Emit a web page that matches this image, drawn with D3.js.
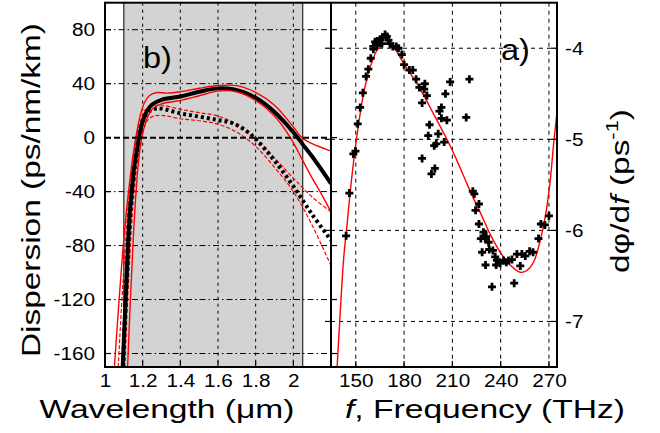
<!DOCTYPE html>
<html>
<head>
<meta charset="utf-8">
<script src="https://cdn.jsdelivr.net/npm/d3@7/dist/d3.min.js"></script>
<style>
  body { margin: 0; background: #fff; }
  svg text { font-family: "Liberation Sans", Arial, sans-serif; fill: #000; }
</style>
</head>
<body>
<svg id="chart" width="660" height="433"></svg>
<script>
// ---- panel b) dispersion vs wavelength ----
const wlTicks = [1, 1.2, 1.4, 1.6, 1.8, 2];
const dispTicks = [80, 40, 0, -40, -80, -120, -160];

// thick black solid
const wlBlack = [1.094, 1.103, 1.113, 1.122, 1.132, 1.142, 1.155, 1.17, 1.18, 1.2, 1.22, 1.25, 1.3, 1.4, 1.5, 1.6, 1.68, 1.8, 1.9, 2.0, 2.05, 2.1, 2.2];
const dBlack  = [-170, -140, -110, -80, -55, -40, -22, -9, 0, 12, 19, 24.5, 28, 30.5, 34, 36.5, 35.8, 29.5, 19, 4, -5, -14, -34];
// red solid upper / lower bounds
const wlRedUp = [1.05, 1.075, 1.1, 1.125, 1.15, 1.17, 1.19, 1.21, 1.235, 1.27, 1.33, 1.4, 1.5, 1.6, 1.7, 1.8, 1.9, 2.0, 2.045, 2.1, 2.2];
const dRedUp  = [-170, -120, -75, -40, -12, 5, 18, 26, 31, 33.3, 33, 34, 36.6, 38.6, 38.5, 33.5, 24, 8, 0, -4.5, -10];
const wlRedLo = [1.12, 1.135, 1.15, 1.165, 1.18, 1.2, 1.22, 1.25, 1.3, 1.4, 1.5, 1.6, 1.7, 1.8, 1.9, 1.984, 2.05, 2.1, 2.15, 2.2];
const dRedLo  = [-170, -120, -75, -40, -15, 3, 13, 21, 25, 27.5, 31, 34.5, 34, 27.5, 16, 0, -17, -30, -42, -55];
// thick black dotted
const wlDot = [1.096, 1.11, 1.123, 1.14, 1.16, 1.18, 1.2, 1.23, 1.27, 1.3, 1.4, 1.5, 1.6, 1.68, 1.75, 1.8, 1.9, 2.0, 2.1, 2.2];
const dDot  = [-170, -120, -80, -45, -18, 0, 12, 19, 21.5, 21.5, 18, 15.6, 13, 10.6, 5, -1, -17, -36, -57, -76];
// red dashed upper / lower bounds
const wlDashUp = [1.07, 1.09, 1.11, 1.13, 1.15, 1.17, 1.19, 1.21, 1.24, 1.3, 1.4, 1.5, 1.6, 1.7, 1.8, 1.9, 2.0, 2.1, 2.2];
const dDashUp  = [-170, -120, -75, -40, -15, 3, 13, 20, 23, 24, 21, 18.5, 16, 9.5, -1, -15, -30, -44, -55];
const wlDashLo = [1.105, 1.12, 1.135, 1.15, 1.17, 1.19, 1.21, 1.23, 1.26, 1.3, 1.4, 1.5, 1.6, 1.7, 1.8, 1.9, 2.0, 2.1, 2.2];
const dDashLo  = [-170, -120, -80, -48, -20, -2, 8, 13.5, 16, 16.5, 14, 12.5, 10, 4, -6.5, -22, -40, -65, -95];

// ---- panel a) group delay derivative vs frequency ----
const freqTicks = [150, 180, 210, 240, 270];
const dphiTicks = [-4, -5, -6, -7];

const fitF = [138.4, 140.5, 142.5, 144.5, 147, 150.4, 154.3, 157, 159.5, 163.7, 168.8, 171, 174, 177.5, 180, 184.4, 190, 198.3, 208.6, 215, 221.3, 227.5, 233.7, 239.7, 245.9, 252.2, 256.3, 260.4, 264.6, 267.7, 270.8, 272.9, 275];
const fitV = [-7.5, -6.85, -6.3, -5.95, -5.5, -5.0, -4.55, -4.33, -4.18, -4.01, -3.95, -3.955, -4.0, -4.1, -4.17, -4.29, -4.45, -4.72, -5.07, -5.32, -5.58, -5.81, -6.05, -6.24, -6.38, -6.46, -6.44, -6.35, -6.11, -5.85, -5.45, -5.05, -4.7];

const measF = [144, 146, 148.5, 149.8, 151.2, 152.7, 154.4, 156.4, 157.8, 159.3, 160.9,
  162, 163.4, 165.1, 166.8, 168.2, 169.3, 170.3, 171.3, 173, 175.1, 176.5, 163.1, 166.2, 160.9, 178.6,
  180, 183.3, 185.4, 187.5, 189.5, 192.9, 192.5, 194.2, 191.2, 208.6, 220.6, 205.7, 203.2, 202, 203.2, 206.6, 218.6,
  195.8, 195, 201.2, 204.9, 200, 198.7, 191.2, 199.1, 197,
  222.7, 223.6, 226.5, 224.4,
  226.5, 229.3, 231, 227.7, 230.4, 232.5, 228.5, 232.9, 235.2, 236.6, 237.7, 239.3, 241.8, 243.5, 239.7, 237.2, 230.6,
  244.9, 247, 250.1, 253.2, 255.3, 258, 260.1, 263.5, 265, 267.5, 270, 252.2, 234.6, 248.4];
const measV = [-6.06, -5.59, -5.16, -5.13, -4.83, -4.65, -4.49, -4.31, -4.23, -4.11, -4.01,
  -3.93, -3.92, -3.9, -3.88, -3.85, -3.87, -3.91, -3.95, -3.98, -3.98, -4.0, -3.97, -3.95, -3.98, -4.07,
  -4.18, -4.24, -4.24, -4.34, -4.43, -4.39, -4.45, -4.52, -4.6, -4.37, -4.34, -4.5, -4.65, -4.69, -4.77, -4.79, -4.76,
  -4.84, -4.96, -4.94, -5.03, -5.05, -5.07, -5.21, -5.32, -5.38,
  -5.57, -5.6, -5.71, -5.78,
  -5.93, -6.02, -6.07, -6.09, -6.09, -6.13, -6.24, -6.21, -6.22, -6.29, -6.33, -6.35, -6.33, -6.35, -6.36, -6.38, -6.38,
  -6.33, -6.32, -6.26, -6.26, -6.28, -6.23, -6.24, -6.09, -5.93, -5.94, -5.84, -6.39, -6.62, -6.58];

const svg = d3.select("#chart");
const plotTop = 2.7, plotBottom = 367, plotLeft = 105, plotMid = 331, plotRight = 557;

const xL = d3.scaleLinear().domain([1, 2.2]).range([plotLeft, plotMid]);
const yL = d3.scaleLinear().domain([-170, 100]).range([plotBottom, plotTop]);
const xR = d3.scaleLinear().domain([134.6, 275]).range([plotMid, plotRight]);
const yR = d3.scaleLinear().domain([-7.5, -3.5]).range([plotBottom, plotTop]);

const defs = svg.append("defs");
defs.append("clipPath").attr("id", "clipL").append("rect")
    .attr("x", plotLeft).attr("y", plotTop).attr("width", plotMid - plotLeft).attr("height", plotBottom - plotTop);
defs.append("clipPath").attr("id", "clipR").append("rect")
    .attr("x", plotMid).attr("y", plotTop).attr("width", plotRight - plotMid).attr("height", plotBottom - plotTop);

// ---------- left panel ----------
const gL = svg.append("g").attr("clip-path", "url(#clipL)");

// shaded wavelength window
gL.append("rect")
    .attr("x", xL(1.1)).attr("y", plotTop)
    .attr("width", xL(2.05) - xL(1.1)).attr("height", plotBottom - plotTop)
    .attr("fill", "#d3d3d3");
gL.append("line")
    .attr("x1", xL(1.1)).attr("x2", xL(1.1)).attr("y1", plotTop).attr("y2", plotBottom)
    .attr("stroke", "#000").attr("stroke-width", 1);
gL.append("line")
    .attr("x1", xL(2.05)).attr("x2", xL(2.05)).attr("y1", plotTop).attr("y2", plotBottom)
    .attr("stroke", "#000").attr("stroke-width", 1);

// grid
gL.selectAll(".hgrid")
    .data(dispTicks.filter(d => d !== 0))
    .enter().append("line")
    .attr("x1", plotLeft).attr("x2", plotMid)
    .attr("y1", d => yL(d)).attr("y2", d => yL(d))
    .attr("stroke", "#000").attr("stroke-width", 1)
    .attr("stroke-dasharray", "6,3,1.5,3");
gL.selectAll(".vgrid")
    .data(wlTicks.filter(d => d !== 1))
    .enter().append("line")
    .attr("x1", d => xL(d)).attr("x2", d => xL(d))
    .attr("y1", plotTop).attr("y2", plotBottom)
    .attr("stroke", "#000").attr("stroke-width", 1)
    .attr("stroke-dasharray", "3,4");

const lineL = (xs, ys) => d3.line()
    .x(i => xL(xs[i])).y(i => yL(ys[i]))
    .curve(d3.curveCatmullRom.alpha(0.5))(d3.range(xs.length));

// dashed red bounds
[[wlDashUp, dDashUp], [wlDashLo, dDashLo]].forEach(([xs, ys]) => {
    gL.append("path").attr("d", lineL(xs, ys))
        .attr("fill", "none").attr("stroke", "#ff0000").attr("stroke-width", 1.2)
        .attr("stroke-dasharray", "4,2");
});
// dotted black
gL.append("path").attr("d", lineL(wlDot, dDot))
    .attr("fill", "none").attr("stroke", "#000").attr("stroke-width", 4)
    .attr("stroke-dasharray", "3,3");
// solid black
gL.append("path").attr("d", lineL(wlBlack, dBlack))
    .attr("fill", "none").attr("stroke", "#000").attr("stroke-width", 4);
// solid red bounds
[[wlRedUp, dRedUp], [wlRedLo, dRedLo]].forEach(([xs, ys]) => {
    gL.append("path").attr("d", lineL(xs, ys))
        .attr("fill", "none").attr("stroke", "#ff0000").attr("stroke-width", 1.4);
});

// zero line
gL.append("line")
    .attr("x1", plotLeft).attr("x2", plotMid)
    .attr("y1", yL(0)).attr("y2", yL(0))
    .attr("stroke", "#000").attr("stroke-width", 2)
    .attr("stroke-dasharray", "6,3");

// ---------- right panel ----------
const gR = svg.append("g").attr("clip-path", "url(#clipR)");

gR.selectAll(".hgrid")
    .data(dphiTicks)
    .enter().append("line")
    .attr("x1", plotMid).attr("x2", plotRight)
    .attr("y1", d => yR(d)).attr("y2", d => yR(d))
    .attr("stroke", "#000").attr("stroke-width", 1)
    .attr("stroke-dasharray", "4,4");
gR.selectAll(".vgrid")
    .data(freqTicks)
    .enter().append("line")
    .attr("x1", d => xR(d)).attr("x2", d => xR(d))
    .attr("y1", plotTop).attr("y2", plotBottom)
    .attr("stroke", "#000").attr("stroke-width", 1)
    .attr("stroke-dasharray", "4,4");

gR.append("path")
    .attr("d", d3.line()
        .x(i => xR(fitF[i])).y(i => yR(fitV[i]))
        .curve(d3.curveCatmullRom.alpha(0.5))(d3.range(fitF.length)))
    .attr("fill", "none").attr("stroke", "#ff0000").attr("stroke-width", 1.4);

gR.selectAll(".pt")
    .data(d3.range(measF.length))
    .enter().append("path")
    .attr("class", "pt")
    .attr("transform", i => `translate(${xR(measF[i])},${yR(measV[i])})`)
    .attr("d", "M-4,0H4M0,-4V4")
    .attr("stroke", "#000").attr("stroke-width", 2.8);

// ---------- frame & ticks ----------
const tickLen = 6;
const ticks = svg.append("g").attr("stroke", "#000").attr("stroke-width", 1.2);
dispTicks.forEach(d => {
    ticks.append("line").attr("x1", plotLeft).attr("x2", plotLeft + tickLen).attr("y1", yL(d)).attr("y2", yL(d));
    ticks.append("line").attr("x1", plotMid).attr("x2", plotMid + tickLen).attr("y1", yL(d)).attr("y2", yL(d));
});
dphiTicks.forEach(d => {
    ticks.append("line").attr("x1", plotRight - tickLen).attr("x2", plotRight).attr("y1", yR(d)).attr("y2", yR(d));
    ticks.append("line").attr("x1", plotMid - tickLen).attr("x2", plotMid).attr("y1", yR(d)).attr("y2", yR(d));
});
wlTicks.forEach(d => {
    ticks.append("line").attr("x1", xL(d)).attr("x2", xL(d)).attr("y1", plotBottom - tickLen).attr("y2", plotBottom);
});
freqTicks.forEach(d => {
    ticks.append("line").attr("x1", xR(d)).attr("x2", xR(d)).attr("y1", plotBottom - tickLen).attr("y2", plotBottom);
});

svg.append("rect")
    .attr("x", plotLeft).attr("y", plotTop)
    .attr("width", plotRight - plotLeft).attr("height", plotBottom - plotTop)
    .attr("fill", "none").attr("stroke", "#000").attr("stroke-width", 2);
svg.append("line")
    .attr("x1", plotMid).attr("x2", plotMid).attr("y1", plotTop).attr("y2", plotBottom)
    .attr("stroke", "#000").attr("stroke-width", 2);

// ---------- axes labels ----------
// the original lettering is wider than Liberation Sans, so stretch each label
function widen(sel, factor) {
    sel.each(function() {
        const len = this.getComputedTextLength();
        d3.select(this).attr("textLength", len * factor).attr("lengthAdjust", "spacingAndGlyphs");
    });
}

const axL = svg.append("g")
    .attr("transform", `translate(${plotLeft},0)`)
    .call(d3.axisLeft(yL).tickValues(dispTicks).tickSize(0).tickPadding(10).tickFormat(d => String(d)));
const axBL = svg.append("g")
    .attr("transform", `translate(0,${plotBottom})`)
    .call(d3.axisBottom(xL).tickValues(wlTicks).tickSize(0).tickPadding(7).tickFormat(d => String(d)));
const axR = svg.append("g")
    .attr("transform", `translate(${plotRight},0)`)
    .call(d3.axisRight(yR).tickValues(dphiTicks).tickSize(0).tickPadding(8).tickFormat(d => String(d)));
const axBR = svg.append("g")
    .attr("transform", `translate(0,${plotBottom})`)
    .call(d3.axisBottom(xR).tickValues(freqTicks).tickSize(0).tickPadding(7).tickFormat(d => String(d)));
[axL, axBL, axR, axBR].forEach(a => {
    a.select(".domain").remove();
    a.selectAll("text").attr("font-size", "18px")
        .attr("font-family", "Liberation Sans, Arial, sans-serif").attr("fill", "#000");
    widen(a.selectAll("text"), 1.15);
});

svg.append("text")
    .attr("x", 167).attr("y", 418)
    .attr("text-anchor", "middle").attr("font-size", "26px")
    .attr("textLength", 255).attr("lengthAdjust", "spacingAndGlyphs")
    .text("Wavelength (\u03bcm)");

const fTitle = svg.append("text")
    .attr("x", 485).attr("y", 418)
    .attr("text-anchor", "middle").attr("font-size", "26px")
    .attr("textLength", 280).attr("lengthAdjust", "spacingAndGlyphs");
fTitle.append("tspan").attr("font-style", "italic").text("f");
fTitle.append("tspan").text(", Frequency (THz)");

svg.append("text")
    .attr("transform", "translate(40,190) rotate(-90)")
    .attr("text-anchor", "middle").attr("font-size", "26px")
    .attr("textLength", 334).attr("lengthAdjust", "spacingAndGlyphs")
    .text("Dispersion (ps/nm/km)");

const dTitle = svg.append("text")
    .attr("transform", "translate(629,191) rotate(-90)")
    .attr("text-anchor", "middle").attr("font-size", "26px")
    .attr("textLength", 164).attr("lengthAdjust", "spacingAndGlyphs");
dTitle.append("tspan").text("d\u03c6/d");
dTitle.append("tspan").attr("font-style", "italic").text("f");
dTitle.append("tspan").text(" (ps");
dTitle.append("tspan").attr("font-size", "17px").attr("dy", "-11").text("-1");
dTitle.append("tspan").attr("dy", "11").text(")");

widen(svg.append("text").attr("x", 143).attr("y", 68).attr("font-size", "29px").text("b)"), 1.12);
widen(svg.append("text").attr("x", 501).attr("y", 60).attr("font-size", "29px").text("a)"), 1.12);
</script>
</body>
</html>
